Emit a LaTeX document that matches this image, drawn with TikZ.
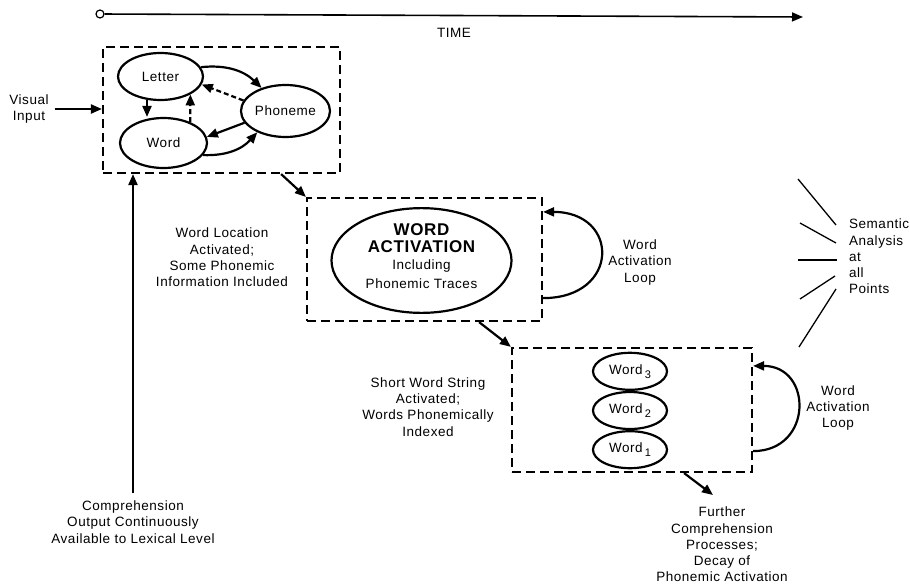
\documentclass[tikz,border=0pt]{standalone}
\usepackage{fontspec}
\setmainfont{Liberation Sans}[LetterSpace=4]
\usetikzlibrary{shapes.geometric,arrows.meta,positioning}
\newcommand\txtfont{\fontsize{13.5}{16.3}\selectfont}
\newcommand\actfont{\fontsize{17}{19}\selectfont\bfseries}
\newcommand\wsub[1]{\,\raisebox{-.6ex}{\fontsize{11}{12}\selectfont #1}}

\begin{document}
\begin{tikzpicture}[x=1pt,y=-1pt,
    font=\txtfont,line width=2.2pt,
    box/.style={draw,rectangle,dash pattern=on 9pt off 5pt,inner sep=0pt},
    ell/.style={draw,ellipse,inner sep=0pt},
    dsh/.style={dash pattern=on 5pt off 3pt},
    arr/.style={-{Triangle[length=11pt,width=9pt]}},
    lbl/.style={align=center,inner sep=1pt}]
  \useasboundingbox (0,0) rectangle (910,586);
  % time axis
  \node[circle,draw,line width=1.2pt,minimum size=8pt,inner sep=0pt] (t0) at (100,14) {};
  \coordinate (t1) at (803,17);
  \draw[arr,line width=1.6pt] (t0) -- (t1);
  \node (time) at (454,33) {TIME};

  % lexical level
  \node[box,minimum width=237pt,minimum height=126pt] (lex) at (221.5,110) {};
  \node[ell,minimum width=85pt,minimum height=47pt] (letter) at (160.5,76.5) {Letter};
  \node[ell,minimum width=87pt,minimum height=50pt] (word) at (163.5,143) {Word};
  \node[ell,minimum width=89pt,minimum height=52pt] (phon) at (285.5,111) {Phoneme};
  \draw[arr] (letter.240) -- (word.north -| letter.240);
  \draw[arr,dsh] (word.38) -- (letter.329);
  \draw[arr,dsh] (phon.166) -- (letter.349);
  \draw[arr] (letter.13) to[bend left=25] (phon.136);
  \draw[arr] (phon.196) -- (word.8);
  \draw[arr] (word.343) to[bend right=25] (phon.217);
  \node[lbl] (visual) at (29,109) {Visual\\Input};
  \draw[arr] ([xshift=4pt]visual.east) -- (visual.east -| lex.west);

  % word activation
  \node[box,minimum width=235pt,minimum height=123pt] (wact) at (424.5,259.5) {};
  \node[ell,minimum width=180pt,minimum height=90pt,align=center] (act) at (421.5,260.5)
    {\actfont WORD\\[1pt]\actfont ACTIVATION\\[1pt]Including\\[2pt]Phonemic Traces\\[-7pt]\mbox{}};
  \draw[arr] ([xshift=-60pt]lex.south east) -- (wact.north west);
  \draw[arr] ([yshift=24pt]wact.south east) .. controls +(77,0) and +(77,0) .. ([yshift=-15pt]wact.north east);
  \node[lbl] (loc) at (222,257.5) {Word Location\\Activated;\\Some Phonemic\\Information Included};
  \node[lbl] (loop1) at (640,262.5) {Word\\Activation\\Loop};

  % short word string
  \node[box,minimum width=240pt,minimum height=124pt] (str) at (632,410) {};
  \node[ell,minimum width=74pt,minimum height=37pt] (w2) at (630,410.5) {Word\wsub{2}};
  \node[ell,minimum width=74pt,minimum height=37pt,above=0pt of w2] (w3) {Word\wsub{3}};
  \node[ell,minimum width=74pt,minimum height=37pt,below=0pt of w2] (w1) {Word\wsub{1}};
  \draw[arr] ([xshift=-64pt]wact.south east) -- (str.north west);
  \draw[arr] ([yshift=22pt]str.south east) .. controls +(60,0) and +(60,0) .. ([yshift=-19pt]str.north east);
  \node[lbl] (short) at (428,407) {Short Word String\\Activated;\\Words Phonemically\\Indexed};
  \node[lbl] (loop2) at (838,408) {Word\\Activation\\Loop};
  \coordinate (out) at (713,495);
  \draw[arr] ([xshift=-69pt]str.south east) -- (out);
  \node[lbl] (further) at (722,544.5) {Further\\Comprehension\\Processes;\\Decay of\\Phonemic Activation};

  % comprehension output
  \node[lbl] (compr) at (133,522) {Comprehension\\Output Continuously\\Available to Lexical Level};
  \draw[arr] ([yshift=6pt]compr.north) -- (compr.north |- lex.south);

  % semantic analysis
  \node[lbl,align=left,anchor=west] (sem) at (847,256.5) {Semantic\\Analysis\\at\\all\\Points};
  \foreach \xa/\ya/\xb/\yb in {798/179/836/225,800/223/836/243,798/260/837/260,
                               800/299/835/276,799/347/836/289}
    \draw[line width=1.3pt] (\xa,\ya) -- (\xb,\yb);
\end{tikzpicture}
\end{document}
